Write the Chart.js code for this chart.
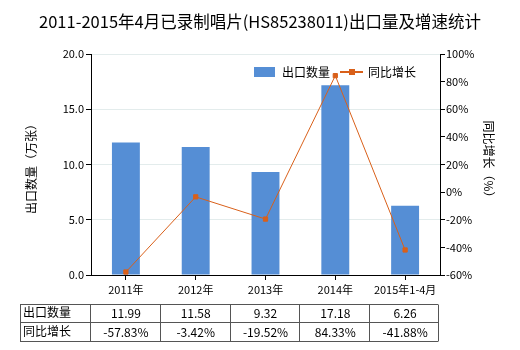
<!DOCTYPE html>
<html>
<head>
<meta charset="utf-8">
<script src="https://cdn.jsdelivr.net/npm/chart.js@4/dist/chart.umd.min.js"></script>
<style>
  html, body { margin: 0; padding: 0; background: #fff; }
  #wrap { width: 520px; height: 350px; }
</style>
</head>
<body>
<div id="wrap"><canvas id="c" width="520" height="350"></canvas></div>
<script>
const categories = ['2011年', '2012年', '2013年', '2014年', '2015年1-4月'];
const exportVolume = [11.99, 11.58, 9.32, 17.18, 6.26];
const yoyGrowth = [-57.83, -3.42, -19.52, 84.33, -41.88];
const volumeTicks = [0, 5, 10, 15, 20];
const growthTicks = [-60, -40, -20, 0, 20, 40, 60, 80, 100];

const TITLE = '2011-2015年4月已录制唱片(HS85238011)出口量及增速统计';
const VOL_LABEL = '出口数量';
const GROWTH_LABEL = '同比增长';
const BAR_COLOR = '#558ED5';
const LINE_COLOR = '#D9601A';
const FONT = '"Noto Sans CJK SC", "Noto Sans", sans-serif';

// Title, axis titles, legend and the data table under the x axis
const decorations = {
  id: 'decorations',
  afterDraw(chart) {
    const ctx = chart.ctx;
    const xs = chart.scales.x;
    ctx.save();
    ctx.fillStyle = '#000';
    ctx.textBaseline = 'middle';

    // title
    ctx.font = '16.5px ' + FONT;
    ctx.textAlign = 'center';
    ctx.fillText(TITLE, 260, 22);

    // axis titles
    ctx.font = '12px ' + FONT;
    ctx.save();
    ctx.translate(31, 166);
    ctx.rotate(-Math.PI / 2);
    ctx.fillText(VOL_LABEL + '（万张）', 0, 0);
    ctx.restore();
    ctx.save();
    ctx.translate(489, 162);
    ctx.rotate(Math.PI / 2);
    ctx.fillText(GROWTH_LABEL + '（%）', 0, 0);
    ctx.restore();

    // legend
    ctx.textAlign = 'left';
    ctx.fillStyle = BAR_COLOR;
    ctx.fillRect(254, 67, 21, 10);
    ctx.fillStyle = '#000';
    ctx.fillText(VOL_LABEL, 282, 72);
    ctx.strokeStyle = LINE_COLOR;
    ctx.lineWidth = 2;
    ctx.beginPath();
    ctx.moveTo(340, 72);
    ctx.lineTo(363, 72);
    ctx.stroke();
    ctx.fillStyle = LINE_COLOR;
    ctx.fillRect(349, 69, 6, 6);
    ctx.fillStyle = '#000';
    ctx.fillText(GROWTH_LABEL, 368, 72);

    // data table
    const tLeft = 20, tTop = 303.5, rowH = 18.5;
    const colW = (xs.right - xs.left) / categories.length;
    const tRight = xs.right - 2;
    ctx.strokeStyle = '#555';
    ctx.lineWidth = 1;
    ctx.beginPath();
    for (let r = 0; r <= 2; r++) {
      const y = Math.round(tTop + r * rowH) + 0.5;
      ctx.moveTo(tLeft, y);
      ctx.lineTo(tRight, y);
    }
    const bottom = Math.round(tTop + 2 * rowH) + 0.5;
    const top = Math.round(tTop) + 0.5;
    ctx.moveTo(tLeft + 0.5, top);
    ctx.lineTo(tLeft + 0.5, bottom);
    for (let i = 0; i <= categories.length; i++) {
      const x = Math.round(i === categories.length ? tRight : xs.left + i * colW - 1) + 0.5;
      ctx.moveTo(x, top);
      ctx.lineTo(x, bottom);
    }
    ctx.stroke();

    ctx.font = '12px ' + FONT;
    ctx.fillStyle = '#000';
    ctx.textAlign = 'left';
    ctx.fillText(VOL_LABEL, 23, tTop + rowH * 0.5);
    ctx.fillText(GROWTH_LABEL, 23, tTop + rowH * 1.5);
    ctx.textAlign = 'center';
    for (let i = 0; i < categories.length; i++) {
      const cx = xs.getPixelForValue(i);
      ctx.fillText(exportVolume[i].toFixed(2), cx, tTop + rowH * 0.5 + 1);
      ctx.fillText(yoyGrowth[i].toFixed(2) + '%', cx, tTop + rowH * 1.5 + 1);
    }
    ctx.restore();
  }
};

new Chart(document.getElementById('c'), {
  data: {
    labels: categories,
    datasets: [
      {
        type: 'line',
        label: GROWTH_LABEL,
        data: yoyGrowth,
        yAxisID: 'y1',
        borderColor: LINE_COLOR,
        backgroundColor: LINE_COLOR,
        borderWidth: 1,
        pointStyle: 'rect',
        pointRadius: 3,
        pointHoverRadius: 3,
        tension: 0,
        order: 0
      },
      {
        type: 'bar',
        label: VOL_LABEL,
        data: exportVolume,
        yAxisID: 'y',
        backgroundColor: BAR_COLOR,
        barPercentage: 0.4,
        categoryPercentage: 1.0,
        order: 1
      }
    ]
  },
  options: {
    responsive: false,
    animation: false,
    devicePixelRatio: 1,
    layout: { padding: { left: 0, right: 0, top: 54, bottom: 55 } },
    plugins: {
      legend: { display: false },
      title: { display: false },
      tooltip: { enabled: false }
    },
    scales: {
      x: {
        offset: true,
        grid: { offset: false, drawOnChartArea: false, tickLength: 5, tickColor: '#000' },
        border: { color: '#000' },
        ticks: { color: '#000', font: { family: FONT, size: 11 }, maxRotation: 0, padding: 3 },
        afterFit(s) { s.height = 20; }
      },
      y: {
        position: 'left',
        min: 0, max: 20,
        afterBuildTicks(s) { s.ticks = volumeTicks.map(v => ({ value: v })); },
        grid: { color: '#E3ECEC', tickLength: 5, tickColor: '#000' },
        border: { color: '#000' },
        ticks: { color: '#000', font: { family: FONT, size: 11 }, padding: 2,
                 callback: v => Number(v).toFixed(1) },
        afterFit(s) { s.width = 91; }
      },
      y1: {
        position: 'right',
        min: -60, max: 100,
        afterBuildTicks(s) { s.ticks = growthTicks.map(v => ({ value: v })); },
        grid: { drawOnChartArea: false, tickLength: 5, tickColor: '#000' },
        border: { color: '#000' },
        ticks: { color: '#000', font: { family: FONT, size: 11 }, padding: 1,
                 callback: v => v + '%' },
        afterFit(s) { s.width = 80; }
      }
    }
  },
  plugins: [decorations]
});
</script>
</body>
</html>
